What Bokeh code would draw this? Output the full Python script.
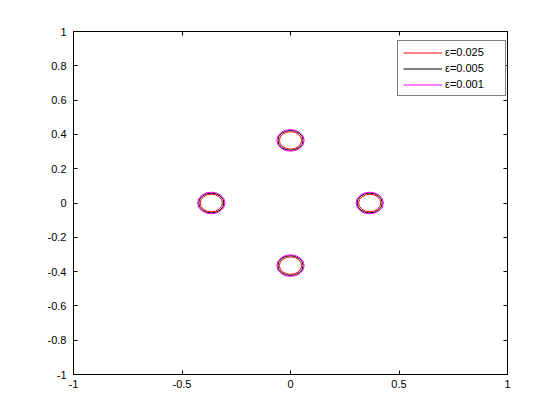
from bokeh.plotting import figure
from bokeh.models import Range1d, FixedTicker, LinearAxis, Legend, LegendItem, ColumnDataSource
from bokeh.embed import file_html
from bokeh.resources import INLINE

# data
center_x = [0.0, 0.365, 0.0, -0.365]
center_y = [0.365, 0.0, -0.365, 0.0]
eps_labels = ["ε=0.025", "ε=0.005", "ε=0.001"]
contour_radius = [0.051, 0.058, 0.063]
x_ticks = [-1, -0.5, 0, 0.5, 1]
x_tick_labels = ["-1", "-0.5", "0", "0.5", "1"]
y_ticks = [-1, -0.8, -0.6, -0.4, -0.2, 0, 0.2, 0.4, 0.6, 0.8, 1]
y_tick_labels = ["-1", "-0.8", "-0.6", "-0.4", "-0.2", "0", "0.2", "0.4", "0.6", "0.8", "1"]

colors = ["#ff0000", "#000000", "#ff00ff"]
FONT = "Liberation Sans"
FS = "11px"

p = figure(width=544, height=404, output_backend="svg", toolbar_location=None,
           x_range=Range1d(-1, 1), y_range=Range1d(-1, 1),
           min_border_left=73, min_border_right=37, min_border_top=31, min_border_bottom=30,
           x_axis_location=None, y_axis_location=None)
p.xgrid.visible = False
p.ygrid.visible = False
p.outline_line_color = "black"
p.outline_line_width = 1
p.background_fill_color = "white"
p.border_fill_color = "white"


def style_axis(ax, ticks, labels, show):
    ax.ticker = FixedTicker(ticks=ticks)
    ax.minor_tick_line_color = None
    ax.major_tick_in = 4
    ax.major_tick_out = 0
    ax.axis_line_color = "black"
    ax.major_tick_line_color = "black"
    ax.major_label_text_font = FONT
    ax.major_label_text_font_size = FS
    ax.major_label_text_color = "black" if show else None
    if show:
        ax.major_label_overrides = {t: l for t, l in zip(ticks, labels)}


xb = LinearAxis()
style_axis(xb, x_ticks, x_tick_labels, True)
xb.major_label_standoff = 5
p.add_layout(xb, "below")
yl = LinearAxis()
style_axis(yl, y_ticks, y_tick_labels, True)
yl.major_label_standoff = 7
p.add_layout(yl, "left")
xt = LinearAxis()
style_axis(xt, x_ticks, x_tick_labels, False)
p.add_layout(xt, "above")
yr = LinearAxis()
style_axis(yr, y_ticks, y_tick_labels, False)
p.add_layout(yr, "right")

items = []
for lab, r, c in zip(eps_labels, contour_radius, colors):
    src = ColumnDataSource(dict(x=center_x, y=center_y, w=[2 * r] * len(center_x)))
    p.ellipse(x="x", y="y", width="w", height="w", source=src,
              fill_color=None, line_color=c, line_width=1)
    proxy = p.line(x=center_x, y=center_y, line_color=c, line_width=1, visible=False)
    items.append(LegendItem(label=lab, renderers=[proxy]))

leg = Legend(items=items, location=(324, 278))
leg.label_text_font = FONT
leg.label_text_font_size = FS
leg.label_text_color = "black"
leg.glyph_width = 39
leg.glyph_height = 11
leg.label_height = 11
leg.label_width = 55
leg.label_standoff = 3
leg.spacing = 4
leg.padding = 5
leg.margin = 0
leg.click_policy = "none"
leg.border_line_color = "black"
leg.border_line_width = 1
leg.background_fill_color = "white"
leg.background_fill_alpha = 1
p.add_layout(leg, "center")

open("out.html", "w").write(file_html(p, INLINE))
